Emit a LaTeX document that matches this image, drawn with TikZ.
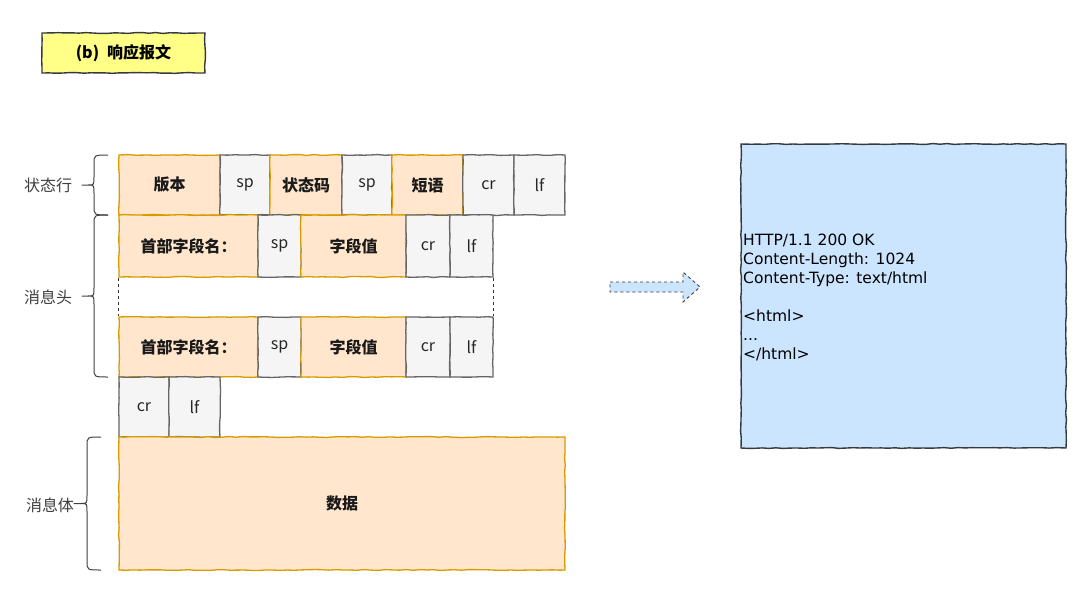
\documentclass[tikz,border=0pt]{standalone}
\usepackage{fontspec}
\newfontfamily\cjk{Noto Sans CJK SC}
\newfontfamily\codefont{DejaVu Sans}
\usetikzlibrary{decorations.pathmorphing}
\definecolor{orfill}{HTML}{FFE6CC}
\definecolor{ordraw}{HTML}{D79B00}
\definecolor{grfill}{HTML}{F5F5F5}
\definecolor{grdraw}{HTML}{666666}
\definecolor{yefill}{HTML}{FFFF88}
\definecolor{dkdraw}{HTML}{36393D}
\definecolor{blfill}{HTML}{CCE5FF}
\definecolor{txt}{HTML}{1A1A1A}
% #1 end x, #2 top y, #3 bottom y, #4 spine x, #5 tip x
\newcommand\curlybrace[5]{%
  \pgfmathsetmacro\bym{(#2+#3)/2}%
  \draw[bracestyle] (#1,#2) .. controls (#4,#2) .. (#4,#2+9) -- (#4,\bym-8)
    .. controls (#4,\bym) .. (#4-6,\bym) -- (#5,\bym) -- (#4-6,\bym)
    .. controls (#4,\bym) .. (#4,\bym+8) -- (#4,#3-9) .. controls (#4,#3) .. (#1,#3);}
\begin{document}
\pgfmathsetseed{7}
\begin{tikzpicture}[x=1pt,y=-1pt,
  sketch/.style={decorate,decoration={random steps,segment length=7pt,amplitude=0.45pt}},
  cellbase/.style={sketch,inner sep=0pt,line width=1.3pt,font=\cjk\fontsize{16}{18}\selectfont,text=txt},
  orcell/.style={cellbase,draw=ordraw,fill=orfill,font=\cjk\bfseries\fontsize{16}{18}\selectfont},
  grcell/.style={cellbase,draw=grdraw,fill=grfill,text=black!85},
  sidelabel/.style={font=\cjk\fontsize{16}{18}\selectfont,text=black!75},
  bracestyle/.style={draw=black!75,line width=1pt,line join=round},
]
\useasboundingbox (0,0) rectangle (1090,598);
\fill[white] (0,0) rectangle (1090,598);

% title
\node[sketch,draw=dkdraw,fill=yefill,line width=1.4pt,minimum width=163pt,minimum height=40pt,inner sep=0pt,
  font=\cjk\bfseries\fontsize{16}{18}\selectfont] (title) at (123.5,53) {(b)\hspace{8pt}响应报文};

% row 1: status line
\node[orcell,minimum width=101pt,minimum height=60pt] (v) at (169.5,185) {版本};
\node[grcell,minimum width=50pt,minimum height=60pt] (sp1) at (245,185) {sp};
\node[orcell,minimum width=72pt,minimum height=60pt] (code) at (306,185) {状态码};
\node[grcell,minimum width=50pt,minimum height=60pt] (sp2) at (367,185) {sp};
\node[orcell,minimum width=71pt,minimum height=60pt] (phrase) at (427.5,185) {短语};
\node[grcell,minimum width=51pt,minimum height=60pt] (cr1) at (488.5,185) {cr};
\node[grcell,minimum width=51pt,minimum height=60pt] (lf1) at (539.5,185) {lf};

% row 2: header line
\node[orcell,minimum width=139pt,minimum height=62pt] (hn1) at (188.5,246) {首部字段名：};
\node[grcell,minimum width=43pt,minimum height=62pt] (hsp1) at (279.5,246) {sp};
\node[orcell,minimum width=105pt,minimum height=62pt] (hv1) at (353.5,246) {字段值};
\node[grcell,minimum width=44pt,minimum height=62pt] (hcr1) at (428,246) {cr};
\node[grcell,minimum width=43pt,minimum height=62pt] (hlf1) at (471.5,246) {lf};

% row 3: header line
\node[orcell,minimum width=139pt,minimum height=60pt] (hn2) at (188.5,347) {首部字段名：};
\node[grcell,minimum width=43pt,minimum height=60pt] (hsp2) at (279.5,347) {sp};
\node[orcell,minimum width=105pt,minimum height=60pt] (hv2) at (353.5,347) {字段值};
\node[grcell,minimum width=44pt,minimum height=60pt] (hcr2) at (428,347) {cr};
\node[grcell,minimum width=43pt,minimum height=60pt] (hlf2) at (471.5,347) {lf};

% dashed continuation
\draw[dashed,line width=0.8pt,black!80] (hn1.south west) -- (hn2.north west);
\draw[dashed,line width=0.8pt,black!80] (hlf1.south east) -- (hlf2.north east);

% row 4: empty line
\node[grcell,minimum width=50pt,minimum height=60pt] (ecr) at (144,407) {cr};
\node[grcell,minimum width=51pt,minimum height=60pt] (elf) at (194.5,407) {lf};

% body
\node[orcell,minimum width=446pt,minimum height=133pt] (data) at (342,503.5) {数据};

% braces and labels
\curlybrace{108}{155}{215}{94}{82}
\node[sidelabel] (l1) at (48,185) {状态行};
\curlybrace{108}{215}{377}{94}{82}
\node[sidelabel] (l2) at (48,297) {消息头};
\curlybrace{101}{437}{570}{87}{74}
\node[sidelabel] (l3) at (50,505) {消息体};

% arrow
\draw[dashed,draw=dkdraw,fill=blfill,line width=0.9pt]
  (610,282) -- (683,282) -- (683,272) -- (700,287) -- (683,302) -- (683,292) -- (610,292) -- cycle;

% example box
\node[sketch,draw=dkdraw,fill=blfill,line width=1.4pt,minimum width=325pt,minimum height=304pt,inner sep=0pt] (box) at (903.5,296) {};
\node[anchor=north west,inner sep=0pt,align=left,font=\codefont\fontsize{15.5}{19}\selectfont,text=black] (code) at (743,234)
{HTTP/1.1 200 OK\\
Content-Length: 1024\\
Content-Type: text/html\\[19pt]
<html>\\
...\\
</html>};
\end{tikzpicture}
\end{document}
